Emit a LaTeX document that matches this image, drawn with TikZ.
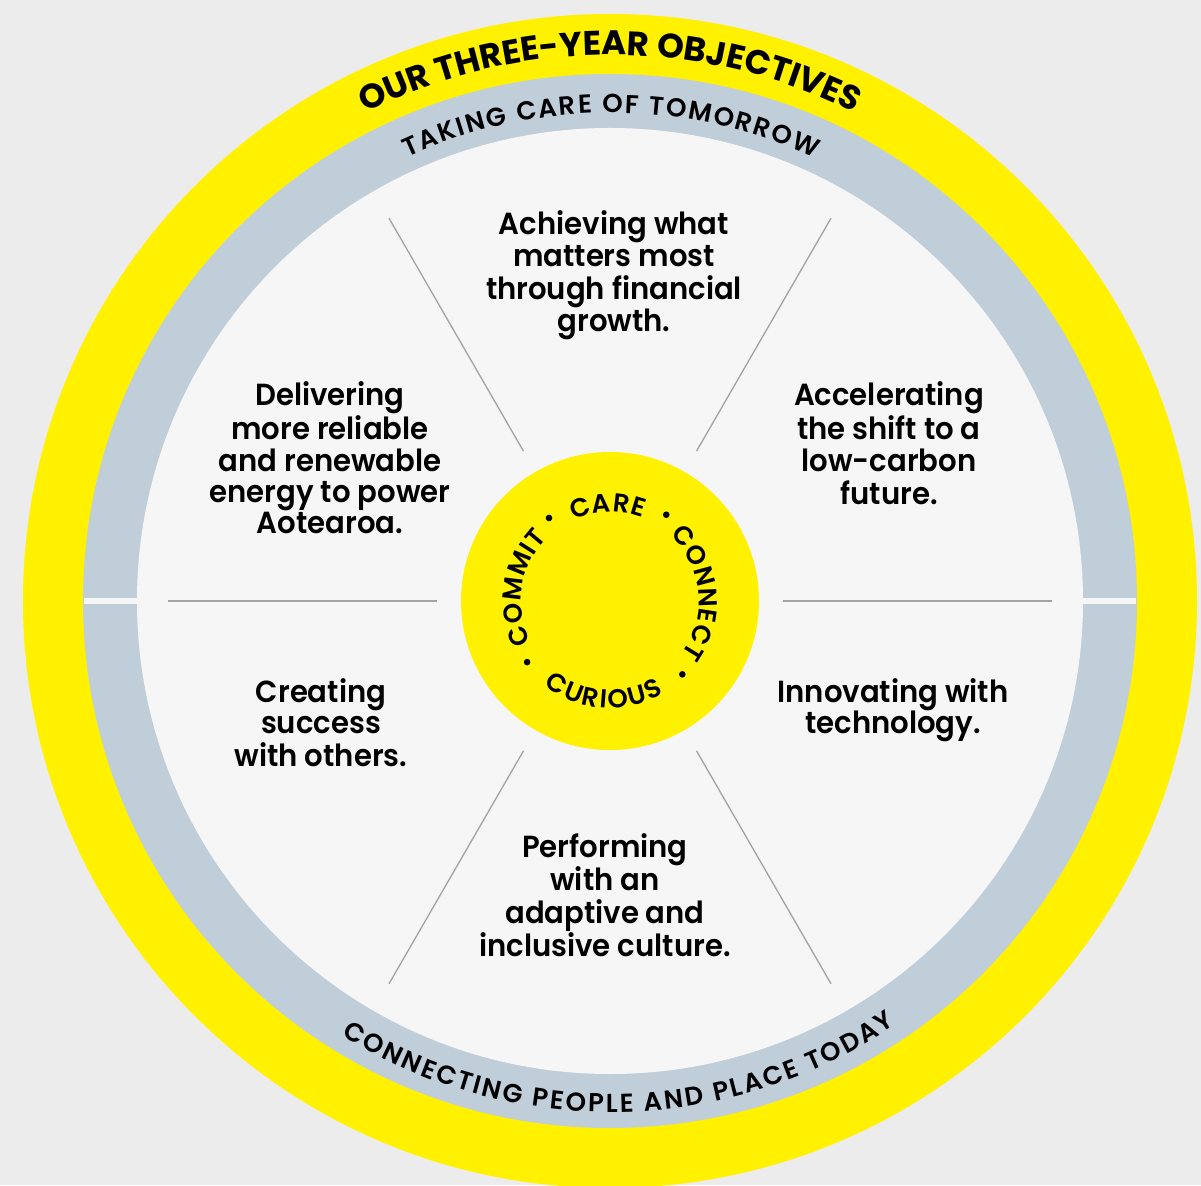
\documentclass[tikz,border=0pt]{standalone}
\usepackage{fontspec}
\usetikzlibrary{decorations.text}
\setmainfont{Poppins}
\newfontfamily\popfam{Poppins}
\IfFontExistsTF{Poppins SemiBold}
  {\newfontfamily\segfam{Poppins SemiBold}[FakeStretch=0.955]
   \newfontfamily\ringfam{Poppins SemiBold}}
  {\newfontfamily\segfam{Poppins}[FakeStretch=0.955,UprightFont=*,BoldFont=*]
   \newfontfamily\ringfam{Poppins}[UprightFont=*,BoldFont=*]}
\newcommand\titlefmt{\popfam\bfseries\fontsize{34}{34}\selectfont}
\newcommand\ringfmtA{\ringfam\fontsize{26}{26}\selectfont\kern1.9pt}
\newcommand\ringfmtB{\ringfam\fontsize{26}{26}\selectfont\kern2.2pt}
\newcommand\hubfmt{\ringfam\fontsize{26}{26}\selectfont\kern0.6pt}
\newcommand\hubfmtC{\ringfam\fontsize{26}{26}\selectfont\kern1.8pt}
\definecolor{bgc}{HTML}{ECECEC}
\definecolor{ylw}{HTML}{FFF100}
\definecolor{ringc}{HTML}{C0CEDA}
\definecolor{innerc}{HTML}{F6F6F6}
\definecolor{divc}{HTML}{A3A3A3}
\begin{document}
\begin{tikzpicture}[x=1pt,y=1pt,
  seg/.style={anchor=base, inner sep=0pt, text=black, font=\segfam\fontsize{30.5}{31.3}\selectfont},
  divider/.style={draw=divc, line width=1.3pt},
  hubdot/.style={fill=black}]
\useasboundingbox (-610,-584) rectangle (591,601);
\fill[bgc] (-610,-584) rectangle (591,601);
% rings
\fill[ylw] (0,0) circle[radius=587];
\fill[ringc] (0,0) circle[radius=527];
\fill[innerc] (-526,-3.2) rectangle (526,3.2);
\fill[innerc] (0,0) circle[radius=473];
% dividers
\foreach \a in {0,60,...,300} {
  \coordinate (in\a) at (\a:173);
  \coordinate (out\a) at (\a:442);
  \draw[divider] (in\a) -- (out\a);
}
% hub
\node[circle, fill=ylw, minimum size=298pt, inner sep=0pt] (hub) at (0,0) {};
% ring texts
\path[decorate, decoration={text along path, text align=center,
  text={|\titlefmt|OUR THREE-YEAR OBJECTIVES}}]
  (150:546) arc[start angle=150, end angle=30, radius=546];
\path[decorate, decoration={text along path, text align=center,
  text={|\ringfmtA|TAKING CARE OF TOMORROW}}]
  (150:488) arc[start angle=150, end angle=30, radius=488];
\path[decorate, decoration={text along path, text align=center,
  text={|\ringfmtB|CONNECTING PEOPLE AND PLACE TODAY}}]
  (-149:511) arc[start angle=-149, end angle=-29, radius=511];
% hub words
\path[decorate, decoration={text along path, text align=center,
  text={|\hubfmt|CARE}}]
  (151.6:89) arc[start angle=151.6, end angle=31.6, radius=89];
\path[decorate, decoration={text along path, text align=center,
  text={|\hubfmt|CONNECT}}]
  (65.75:89) arc[start angle=65.75, end angle=-54.25, radius=89];
\path[decorate, decoration={text along path, text align=center,
  text={|\hubfmt|COMMIT}}]
  (231.35:89) arc[start angle=231.35, end angle=111.35, radius=89];
\path[decorate, decoration={text along path, text align=center,
  text={|\hubfmtC|CURIOUS}}]
  (-154.5:107) arc[start angle=-154.5, end angle=-34.5, radius=107];
\foreach \a in {126.3,56.9,-45.4,-143.6} \fill[hubdot] (\a:103) circle[radius=3.3];
% segment texts
\node[seg] (t1) at (4,366) {\begin{tabular}[t]{@{}c@{}}Achieving what\\matters most\\through financial\\growth.\end{tabular}};
\node[seg] (t2) at (279,195) {\begin{tabular}[t]{@{}c@{}}Accelerating\\the shift to a\\low-carbon\\future.\end{tabular}};
\node[seg] (t3) at (283,-101) {\begin{tabular}[t]{@{}c@{}}Innovating with\\technology.\end{tabular}};
\node[seg] (t4) at (-5,-256) {\begin{tabular}[t]{@{}c@{}}Performing\\with an\\adaptive and\\inclusive culture.\end{tabular}};
\node[seg] (t5) at (-289,-101) {\begin{tabular}[t]{@{}c@{}}Creating\\success\\with others.\end{tabular}};
\node[seg] (t6) at (-280,195) {\begin{tabular}[t]{@{}c@{}}Delivering\\more reliable\\and renewable\\energy to power\\Aotearoa.\end{tabular}};
\end{tikzpicture}
\end{document}
